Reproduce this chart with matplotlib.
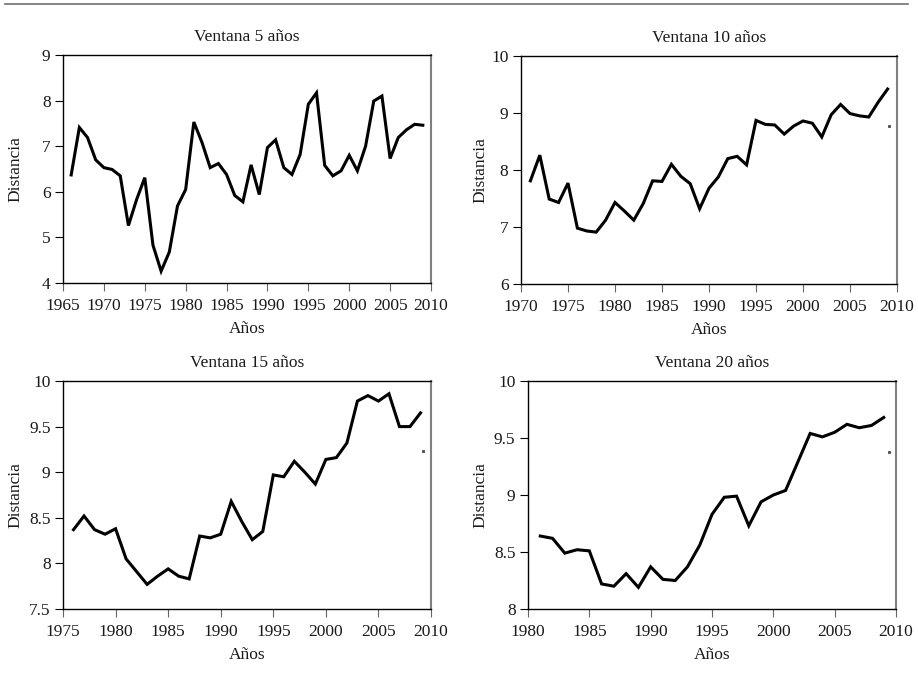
import matplotlib.pyplot as plt
import numpy as np
from matplotlib.lines import Line2D

plt.rcParams['font.family'] = ['Liberation Serif', 'DejaVu Serif']

# Ventana 5 años
years5 = list(range(1966, 2010))
dist5 = [6.37, 7.41, 7.19, 6.70, 6.53, 6.49, 6.35, 5.26, 5.83, 6.31,
         4.83, 4.26, 4.68, 5.69, 6.05, 7.53, 7.08, 6.53, 6.62, 6.38,
         5.92, 5.78, 6.59, 5.94, 6.97, 7.14, 6.53, 6.38, 6.82, 7.92,
         8.17, 6.58, 6.35, 6.46, 6.80, 6.46, 7.00, 7.99, 8.10, 6.73,
         7.19, 7.36, 7.48, 7.46]

# Ventana 10 años
years10 = list(range(1971, 2010))
dist10 = [7.81, 8.26, 7.49, 7.43, 7.77, 6.98, 6.93, 6.91, 7.12, 7.43,
          7.28, 7.12, 7.41, 7.81, 7.80, 8.10, 7.89, 7.76, 7.32, 7.68,
          7.88, 8.20, 8.24, 8.09, 8.87, 8.80, 8.79, 8.63, 8.77, 8.86,
          8.82, 8.58, 8.97, 9.15, 8.99, 8.95, 8.93, 9.19, 9.42]

# Ventana 15 años
years15 = list(range(1976, 2010))
dist15 = [8.37, 8.52, 8.37, 8.32, 8.38, 8.05, 7.91, 7.77, 7.86, 7.94,
          7.86, 7.83, 8.30, 8.28, 8.32, 8.68, 8.46, 8.26, 8.35, 8.97,
          8.95, 9.12, 9.00, 8.87, 9.14, 9.16, 9.32, 9.78, 9.84, 9.78,
          9.86, 9.50, 9.50, 9.65]

# Ventana 20 años
years20 = list(range(1981, 2010))
dist20 = [8.64, 8.62, 8.49, 8.52, 8.51, 8.22, 8.20, 8.31, 8.19, 8.37,
          8.26, 8.25, 8.37, 8.56, 8.83, 8.98, 8.99, 8.73, 8.94, 9.00,
          9.04, 9.29, 9.54, 9.51, 9.55, 9.62, 9.59, 9.61, 9.68]

# small stray dots seen near the right edge (panels 2-4)
stray_x = [None, 2009.1, 2009.2, 2009.4]
stray_y = [None, 8.77, 9.23, 9.38]

titles = ["Ventana 5 años", "Ventana 10 años", "Ventana 15 años", "Ventana 20 años"]
xs = [years5, years10, years15, years20]
ys = [dist5, dist10, dist15, dist20]
xlims = [(1965, 2010), (1970, 2010), (1975, 2010), (1980, 2010)]
ylims = [(4, 9), (6, 10), (7.5, 10), (8, 10)]
yticks = [[4, 5, 6, 7, 8, 9], [6, 7, 8, 9, 10], [7.5, 8, 8.5, 9, 9.5, 10], [8, 8.5, 9, 9.5, 10]]

W, H = 918, 683
boxes = [(63, 55, 431, 283), (521, 56, 897, 284), (63, 381, 431, 609), (528, 381, 896, 609)]
ylabel_px = [15, 480, 15, 480]

fig = plt.figure(figsize=(9.18, 6.83), dpi=100)
fig.add_artist(Line2D([5 / W, 908 / W], [1 - 3.5 / H, 1 - 3.5 / H], color='#707070', lw=1.2))

for i in range(4):
    l, t, r, b = boxes[i]
    ax = fig.add_axes([l / W, 1 - b / H, (r - l) / W, (b - t) / H])
    ax.plot(xs[i], ys[i], color='black', linewidth=2.2, solid_joinstyle='miter')
    if stray_x[i] is not None:
        ax.plot([stray_x[i]], [stray_y[i]], marker='s', markersize=1.2, color='#555555', linestyle='none')
    ax.set_xlim(*xlims[i])
    ax.set_ylim(*ylims[i])
    ax.set_xticks(range(xlims[i][0], 2011, 5))
    ax.set_yticks(yticks[i])
    ax.set_yticklabels([('%g' % v) for v in yticks[i]])
    ax.set_title(titles[i], fontsize=12.5, pad=10, color='#1a1a1a')
    ax.set_xlabel("Años", fontsize=12.5, color='#1a1a1a')
    ax.set_ylabel("Distancia", fontsize=12.5, color='#1a1a1a')
    ax.xaxis.set_label_coords(0.5, -46 / (b - t), transform=ax.transAxes)
    ax.xaxis.label.set_va('center')
    ax.yaxis.set_label_coords((ylabel_px[i] - l) / (r - l), 0.5, transform=ax.transAxes)
    ax.yaxis.label.set_va('center')
    ax.tick_params(direction='out', length=6, width=0.8, labelsize=12.5, labelcolor='#1a1a1a')
    ax.tick_params(axis='x', color='#666666', pad=5)
    ax.tick_params(axis='y', pad=3)
    ax.spines['left'].set_linewidth(1.0)
    ax.spines['bottom'].set_linewidth(1.0)
    ax.spines['top'].set_linewidth(1.0)
    ax.spines['right'].set_color('#808080')
    ax.spines['right'].set_linewidth(1.5)

plt.savefig("out.png", dpi=100)
